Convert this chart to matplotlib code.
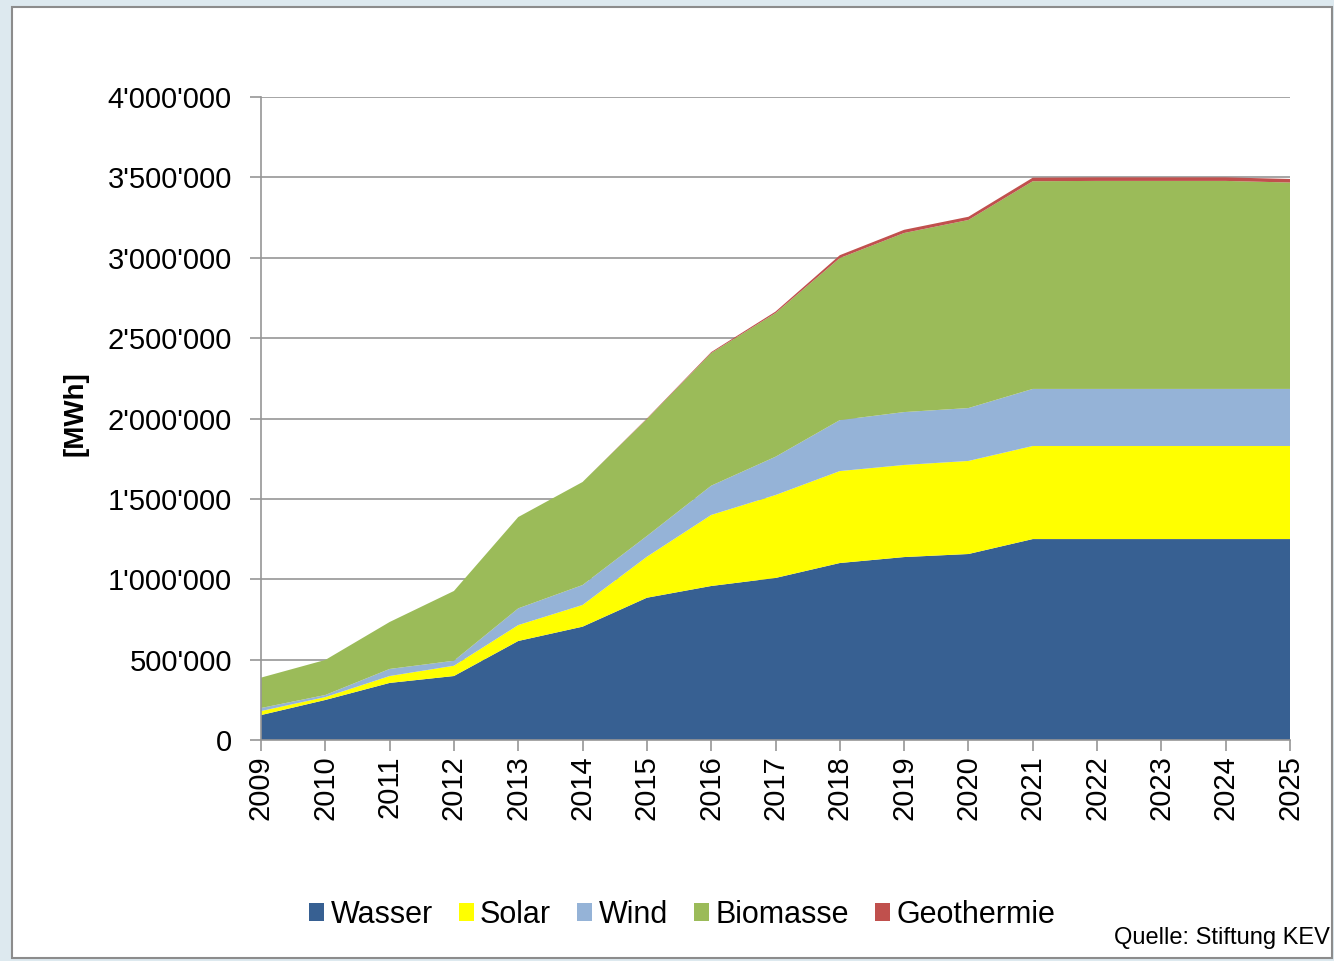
import matplotlib.pyplot as plt
from matplotlib.patches import Rectangle
from matplotlib.ticker import FuncFormatter

# --- Data (MWh) ---
years = list(range(2009, 2026))
wasser = [155000, 249000, 355000, 398000, 616000, 705000, 885000, 958000, 1008000,
          1101000, 1138000, 1157000, 1250000, 1250000, 1250000, 1250000, 1250000]
solar = [25000, 18000, 43000, 64000, 99000, 135000, 255000, 442000, 516000,
         572000, 573000, 579000, 579000, 579000, 579000, 579000, 579000]
wind = [19000, 13000, 44000, 31000, 104000, 124000, 129000, 182000, 238000,
        317000, 329000, 329000, 355000, 355000, 355000, 355000, 355000]
biomasse = [189000, 218000, 292000, 434000, 568000, 641000, 728000, 825000, 894000,
            1008000, 1114000, 1170000, 1292000, 1294000, 1294000, 1294000, 1284000]
geothermie = [0, 0, 0, 0, 0, 0, 3000, 6000, 9000,
              18000, 20000, 20000, 22000, 22000, 22000, 22000, 22000]

labels = ['Wasser', 'Solar', 'Wind', 'Biomasse', 'Geothermie']
colors = ['#376092', '#FFFF00', '#95B3D7', '#9BBB59', '#C0504D']

plt.rcParams['font.family'] = ['Liberation Sans', 'DejaVu Sans']

fig = plt.figure(figsize=(13.34, 9.61), dpi=100)
fig.patch.set_facecolor('#dde9ef')
# white chart area with grey frame (behind the axes)
fig.patches.append(Rectangle((12 / 1334, 3 / 961), 1320 / 1334, 951 / 961,
                             transform=fig.transFigure, facecolor='white',
                             edgecolor='#8c8c8c', linewidth=1.5, zorder=-10))

ax = fig.add_axes([261 / 1334, 1 - 740 / 961, (1290 - 261) / 1334, (740 - 97) / 961])
ax.set_facecolor('none')

ax.stackplot(years, wasser, solar, wind, biomasse, geothermie,
             labels=labels, colors=colors, linewidth=0, zorder=2)

ax.set_xlim(2009, 2025)
ax.set_ylim(0, 4000000)
ax.set_yticks(range(0, 4000001, 500000))
ax.set_xticks(years)
ax.set_xticklabels([str(y) for y in years], rotation=90)
ax.yaxis.set_major_formatter(FuncFormatter(lambda v, p: f"{int(v):,}".replace(',', "'")))

ax.grid(axis='y', color='#969696', linewidth=1.2, zorder=1)
ax.set_axisbelow(True)
for s in ['top', 'right']:
    ax.spines[s].set_visible(False)
for s in ['left', 'bottom']:
    ax.spines[s].set_color('#969696')
    ax.spines[s].set_linewidth(1.2)
    ax.spines[s].set_zorder(3)
ax.tick_params(axis='both', colors='#969696', labelcolor='black', labelsize=21,
               length=8, width=1.2, direction='out')
ax.tick_params(axis='y', pad=13)
ax.tick_params(axis='x', pad=3)

ax.set_ylabel('[MWh]', fontsize=20, fontweight='bold')
ax.yaxis.set_label_coords((88 - 261) / 1029, 0.507)

handles, lbls = ax.get_legend_handles_labels()
fig.legend(handles, lbls, loc='center', bbox_to_anchor=(682 / 1334, 1 - 915 / 961),
           ncol=5, frameon=False, fontsize=22, handlelength=0.5, handleheight=0.5,
           handletextpad=0.2, columnspacing=0.85)

fig.text(1330 / 1334, 1 - 938 / 961, 'Quelle: Stiftung KEV', ha='right', va='center',
         fontsize=17)

fig.savefig('out.png', dpi=100, facecolor=fig.get_facecolor())
